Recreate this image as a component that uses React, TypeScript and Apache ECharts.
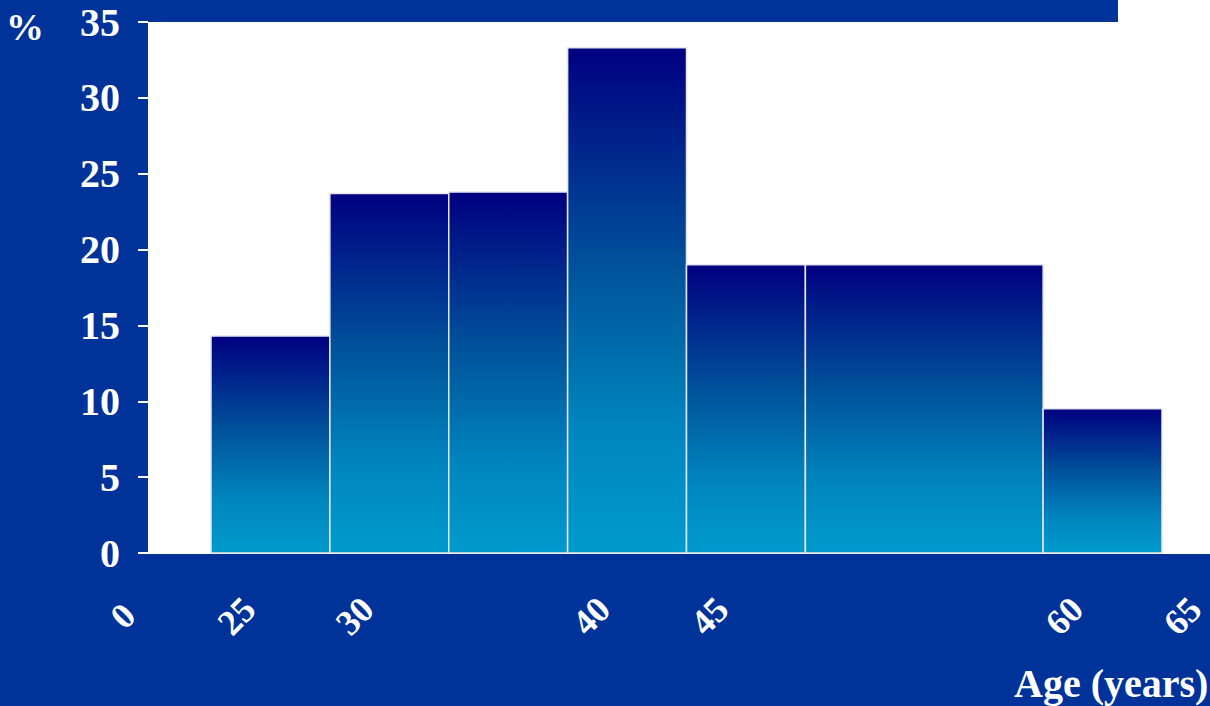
import React, { useEffect, useRef } from "react";
import * as echarts from "echarts";

// Age bins (start, end) in years and the share of subjects (%) in each
const binStarts = [25, 30, 35, 40, 45, 50, 60];
const binEnds = [30, 35, 40, 45, 50, 60, 65];
const percents = [14.3, 23.7, 23.8, 33.3, 19.0, 19.0, 9.5];

// Axis texts
const yTicks = { min: 0, max: 35, interval: 5 };
const xTickValues = [25, 30, 40, 45, 60, 65];
const xBreakLabel = "0"; // axis-break label shown left of the plot
const yAxisName = "%";
const xAxisName = "Age (years)";

const BG = "#003399";
const FONT = '"Liberation Serif", "Times New Roman", serif';

export default function App() {
  const ref = useRef<HTMLDivElement>(null);

  useEffect(() => {
    if (!ref.current) return;
    const chart = echarts.init(ref.current, undefined, { renderer: "svg" });

    const PX_PER_YEAR = 23.775;
    const gridLeft = 148;
    const gridTop = 22;
    const gridBottom = 706 - 553;
    const xMin = 25 - (211 - gridLeft) / PX_PER_YEAR;
    const xMax = xMin + (1210 - gridLeft) / PX_PER_YEAR;
    const labelMin = 15;
    const labelMax = labelMin + 1210 / PX_PER_YEAR;
    const breakPos = 20.2;

    const data = binStarts.map((s, i) => [s, binEnds[i], percents[i]]);

    const gradient = new echarts.graphic.LinearGradient(0, 0, 0, 1, [
      { offset: 0, color: "#000080" },
      { offset: 0.45, color: "#00559C" },
      { offset: 0.75, color: "#0085BE" },
      { offset: 1, color: "#009ACD" },
    ]);

    chart.setOption({
      animation: false,
      backgroundColor: BG,
      grid: [
        {
          left: gridLeft,
          right: 0,
          top: gridTop,
          bottom: gridBottom,
          show: true,
          backgroundColor: "#ffffff",
          borderWidth: 0,
        },
        { left: 0, right: 0, top: gridTop, bottom: gridBottom },
      ],
      xAxis: [
        {
          type: "value",
          gridIndex: 0,
          min: xMin,
          max: xMax,
          axisLine: { show: true, lineStyle: { color: "#ffffff", width: 2 } },
          axisTick: { show: false },
          axisLabel: { show: false },
          splitLine: { show: false },
        },
        {
          type: "value",
          gridIndex: 1,
          min: labelMin,
          max: labelMax,
          axisLine: { show: false },
          axisTick: { show: false },
          splitLine: { show: false },
          axisLabel: {
            show: true,
            customValues: [breakPos, ...xTickValues],
            rotate: 45,
            align: "center",
            verticalAlign: "middle",
            margin: 63,
            color: "#ffffff",
            fontFamily: FONT,
            fontWeight: "bold",
            fontSize: 36,
            formatter: (v: number) =>
              Math.abs(v - breakPos) < 0.01 ? xBreakLabel : String(Math.round(v)),
          },
        },
      ],
      yAxis: [
        {
          type: "value",
          gridIndex: 0,
          min: yTicks.min,
          max: yTicks.max,
          interval: yTicks.interval,
          axisLine: { show: false },
          axisTick: {
            show: true,
            length: 10,
            lineStyle: { color: "#ffffff", width: 2 },
          },
          splitLine: { show: false },
          axisLabel: {
            color: "#ffffff",
            fontFamily: FONT,
            fontWeight: "bold",
            fontSize: 40,
            margin: 28,
          },
        },
        {
          type: "value",
          gridIndex: 1,
          show: false,
          min: 0,
          max: 35,
        },
      ],
      graphic: [
        {
          type: "rect",
          shape: { x: 1118, y: 0, width: 92, height: gridTop },
          style: { fill: "#ffffff" },
          silent: true,
        },
        {
          type: "text",
          x: 25,
          y: 27,
          style: {
            text: yAxisName,
            fill: "#ffffff",
            font: `bold 38px ${FONT}`,
            textAlign: "center",
            textVerticalAlign: "middle",
          },
        },
        {
          type: "text",
          x: 1014,
          y: 683,
          style: {
            text: xAxisName,
            fill: "#ffffff",
            font: `bold 40px ${FONT}`,
            textAlign: "left",
            textVerticalAlign: "middle",
          },
        },
      ],
      series: [
        {
          type: "custom",
          xAxisIndex: 0,
          yAxisIndex: 0,
          encode: { x: [0, 1], y: 2 },
          data,
          renderItem: (params: any, api: any) => {
            const p0 = api.coord([api.value(0), api.value(2)]);
            const p1 = api.coord([api.value(1), 0]);
            return {
              type: "rect",
              shape: {
                x: p0[0],
                y: p0[1],
                width: p1[0] - p0[0],
                height: p1[1] - p0[1],
              },
              style: { fill: gradient, stroke: "#e6e6f2", lineWidth: 1.5 },
            };
          },
        },
      ],
    });

    return () => chart.dispose();
  }, []);

  return (
    <div
      ref={ref}
      style={{ position: "fixed", left: 0, top: 0, width: 1210, height: 706 }}
    />
  );
}
